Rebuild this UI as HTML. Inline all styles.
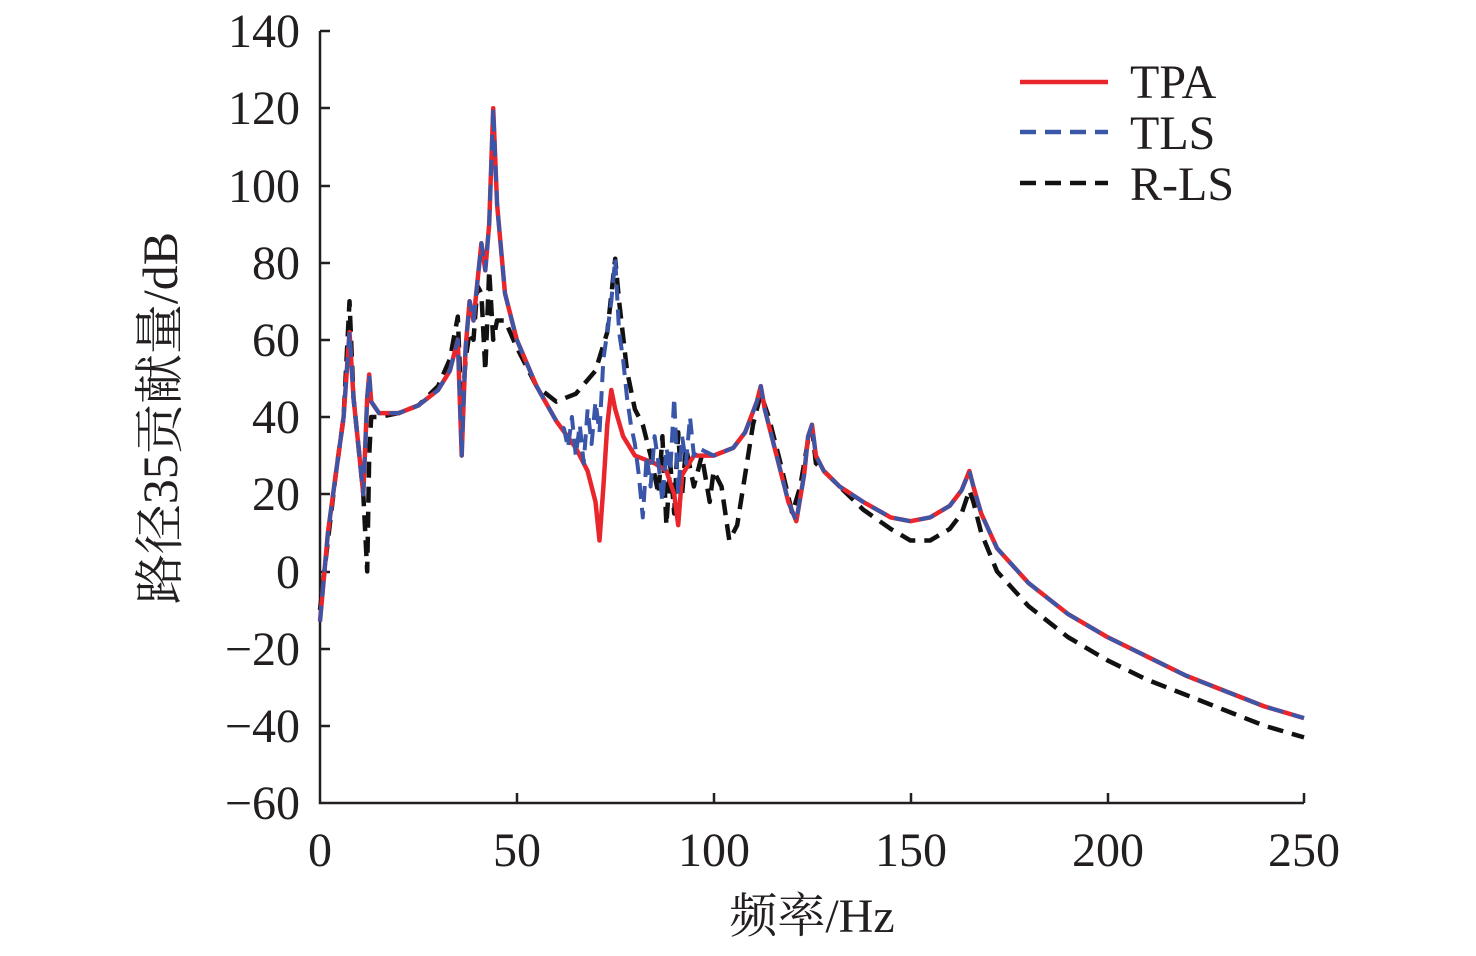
<!DOCTYPE html><html><head><meta charset="utf-8"><style>
html,body{margin:0;padding:0;background:#fff}
svg text{font-family:"Liberation Serif","Noto Serif CJK SC",serif;fill:#231f20}
</style></head><body>
<svg id="s" width="1476" height="951" viewBox="0 0 1476 951" xmlns="http://www.w3.org/2000/svg">
<g stroke="#231f20" stroke-width="2.5" fill="none">
<path d="M320,31V803H1304"/>
<path d="M320,31h10M320,108h10M320,186h10M320,263h10M320,340h10M320,417h10M320,494h10M320,572h10M320,649h10M320,726h10"/>
<path d="M517,803v-10M714,803v-10M911,803v-10M1108,803v-10M1304,803v-10"/>
</g>
<g font-size="48" text-anchor="end">
<text x="300" y="47">140</text><text x="300" y="124">120</text><text x="300" y="202">100</text>
<text x="300" y="279">80</text><text x="300" y="356">60</text><text x="300" y="433">40</text>
<text x="300" y="510">20</text><text x="300" y="588">0</text><text x="300" y="665">−20</text>
<text x="300" y="742">−40</text><text x="300" y="819">−60</text>
</g>
<g font-size="48" text-anchor="middle">
<text x="320" y="866">0</text><text x="517" y="866">50</text><text x="714" y="866">100</text>
<text x="911" y="866">150</text><text x="1108" y="866">200</text><text x="1304" y="866">250</text>
<text x="812" y="932">频率/Hz</text>
</g>
<text font-size="50" text-anchor="middle" transform="translate(177,418) rotate(-90)">路径35贡献量/dB</text>
<g id="c" fill="none" stroke-linejoin="round"></g>
<g stroke-width="4.5">
<line x1="1020" y1="82" x2="1108" y2="82" stroke="#e8262c"/>
<line x1="1020" y1="132" x2="1108" y2="132" stroke="#3a56a8" stroke-dasharray="16,9"/>
<line x1="1020" y1="183" x2="1108" y2="183" stroke="#111" stroke-dasharray="16,9"/>
</g>
<g font-size="48"><text x="1130" y="98">TPA</text><text x="1130" y="149">TLS</text><text x="1130" y="200">R-LS</text></g>
</svg>
<script>
var X=f=>320+f*3.936,Y=v=>31+(140-v)*3.86;
var tpa=[[0,-13],[2,10],[4,25],[6,40],[7.5,62],[8.5,45],[10,30],[11,20],[12,45],[12.5,51],[13,44],[15,41],[20,41],[25,43],[30,47],[33,52],[35,60],[36,30],[37,58],[38,70],[39,65],[40,75],[41,85],[42,78],[43,90],[44,120],[45,95],[47,72],[50,60],[55,48],[60,39],[65,32],[68,26],[70,18],[71,8],[72,22],[73,38],[74,47],[75,42],[77,35],[80,30],[85,28],[88,26],[90,20],[91,12],[92,25],[95,30],[100,30],[105,32],[108,36],[111,44],[112,48],[113,42],[116,30],[119,18],[121,13],[123,25],[124,35],[125,38],[126,30],[128,26],[132,22],[138,18],[145,14],[150,13],[155,14],[160,17],[163,21],[165,26],[166,22],[168,15],[172,6],[180,-3],[190,-11],[200,-17],[210,-22],[220,-27],[230,-31],[240,-35],[250,-38]];
var mid=[[62,37],[63,32],[64,40],[65,30],[66,38],[67,28],[68,42],[69,33],[70,44],[71,36],[72,55],[73,62],[74,70],[75,81],[76,62],[77,55],[78,45],[79,38],[80,33],[81,25],[82,14],[83,30],[84,22],[85,35],[86,28],[87,18],[88,32],[89,26],[90,45],[91,20],[92,35],[93,28],[94,40],[95,30],[96,32]];
var tls=tpa.filter(p=>p[0]<62).concat(mid,tpa.filter(p=>p[0]>96));
var rls=[[0,-10],[2,8],[4,25],[6,40],[7.5,70],[8.5,45],[10,30],[11,20],[12,0],[12.5,30],[13,40],[15,40],[20,41],[25,43],[30,48],[33,55],[35,66],[36,40],[37,55],[38,62],[39,60],[40,74],[41,72],[42,52],[43,78],[44,60],[45,65],[47,65],[50,58],[55,48],[60,44],[65,46],[70,52],[73,62],[75,81],[76,70],[78,52],[80,42],[82,38],[84,30],[86,20],[87,35],[88,12],[89,28],[90,15],[91,36],[92,20],[93,32],[95,22],[97,30],[99,18],[100,26],[102,22],[103,15],[104,8],[106,12],[108,25],[110,38],[112,46],[114,40],[117,28],[120,15],[122,22],[124,34],[125,37],[126,28],[128,26],[132,22],[138,16],[145,11],[150,8],[155,8],[160,11],[163,15],[165,21],[166,18],[168,10],[172,0],[180,-9],[190,-17],[200,-23],[210,-28],[220,-32],[230,-36],[240,-40],[250,-43]];
function P(a){return 'M'+a.map(p=>X(p[0]).toFixed(1)+','+Y(p[1]).toFixed(1)).join('L')}
var g=document.getElementById('c');
g.innerHTML='<path d="'+P(rls)+'" stroke="#111" stroke-width="4.5" stroke-dasharray="16,9"/>'+
'<path d="'+P(tpa)+'" stroke="#e8262c" stroke-width="4.5"/>'+
'<path d="'+P(tls)+'" stroke="#3a56a8" stroke-width="4" stroke-dasharray="16,9"/>';
</script>
</body></html>
